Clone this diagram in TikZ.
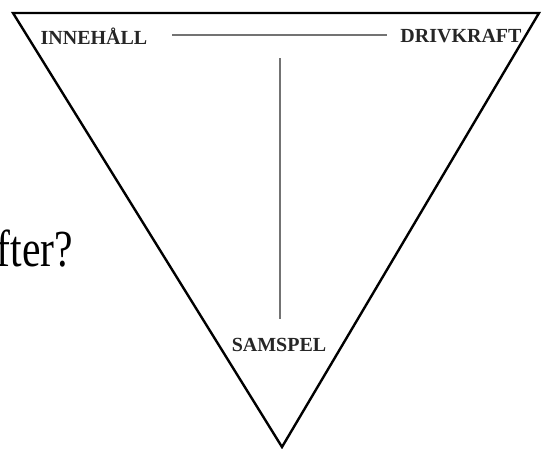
\documentclass[tikz,border=0pt]{standalone}
\usepackage{fontspec}
\setmainfont{Liberation Serif}
\usepackage{tikz}
\usetikzlibrary{positioning,calc}

\begin{document}
\begin{tikzpicture}[
    x=1pt, y=-1pt,
    corner/.style={font=\fontsize{20}{20}\selectfont\bfseries, text=black!85, inner sep=0pt},
    frame/.style={draw=black, line width=2.4pt, line join=miter},
    link/.style={draw=black!55, line width=1.5pt}
]
    % ============ Canvas ============
    \useasboundingbox (0,0) rectangle (544,448);

    % ============ Triangle ============
    \coordinate (tl) at (13,13);
    \coordinate (tr) at (539,13);
    \coordinate (bot) at (282,447);
    \draw[frame] (tl) -- (tr) -- (bot) -- cycle;

    % ============ Labels ============
    \node[corner] (innehall) at (94,36) {INNEHÅLL};
    \node[corner] (drivkraft) at (461,36) {DRIVKRAFT};
    \node[corner] (samspel) at (279,345) {SAMSPEL};

    % cut-off question on the left
    \node[anchor=base east, font=\fontsize{52}{52}\selectfont, inner sep=0pt] (fraga) at (73,266) {\scalebox{0.8}[1]{fter?}};

    % ============ Connections ============
    \coordinate (hstart) at (172,35);
    \coordinate (hend) at (387,35);
    \draw[link] (hstart) -- (hend);

    \coordinate (vtop) at (280,58);
    \coordinate (vend) at (280,319);
    \draw[link] (vtop) -- (vend);

\end{tikzpicture}
\end{document}
